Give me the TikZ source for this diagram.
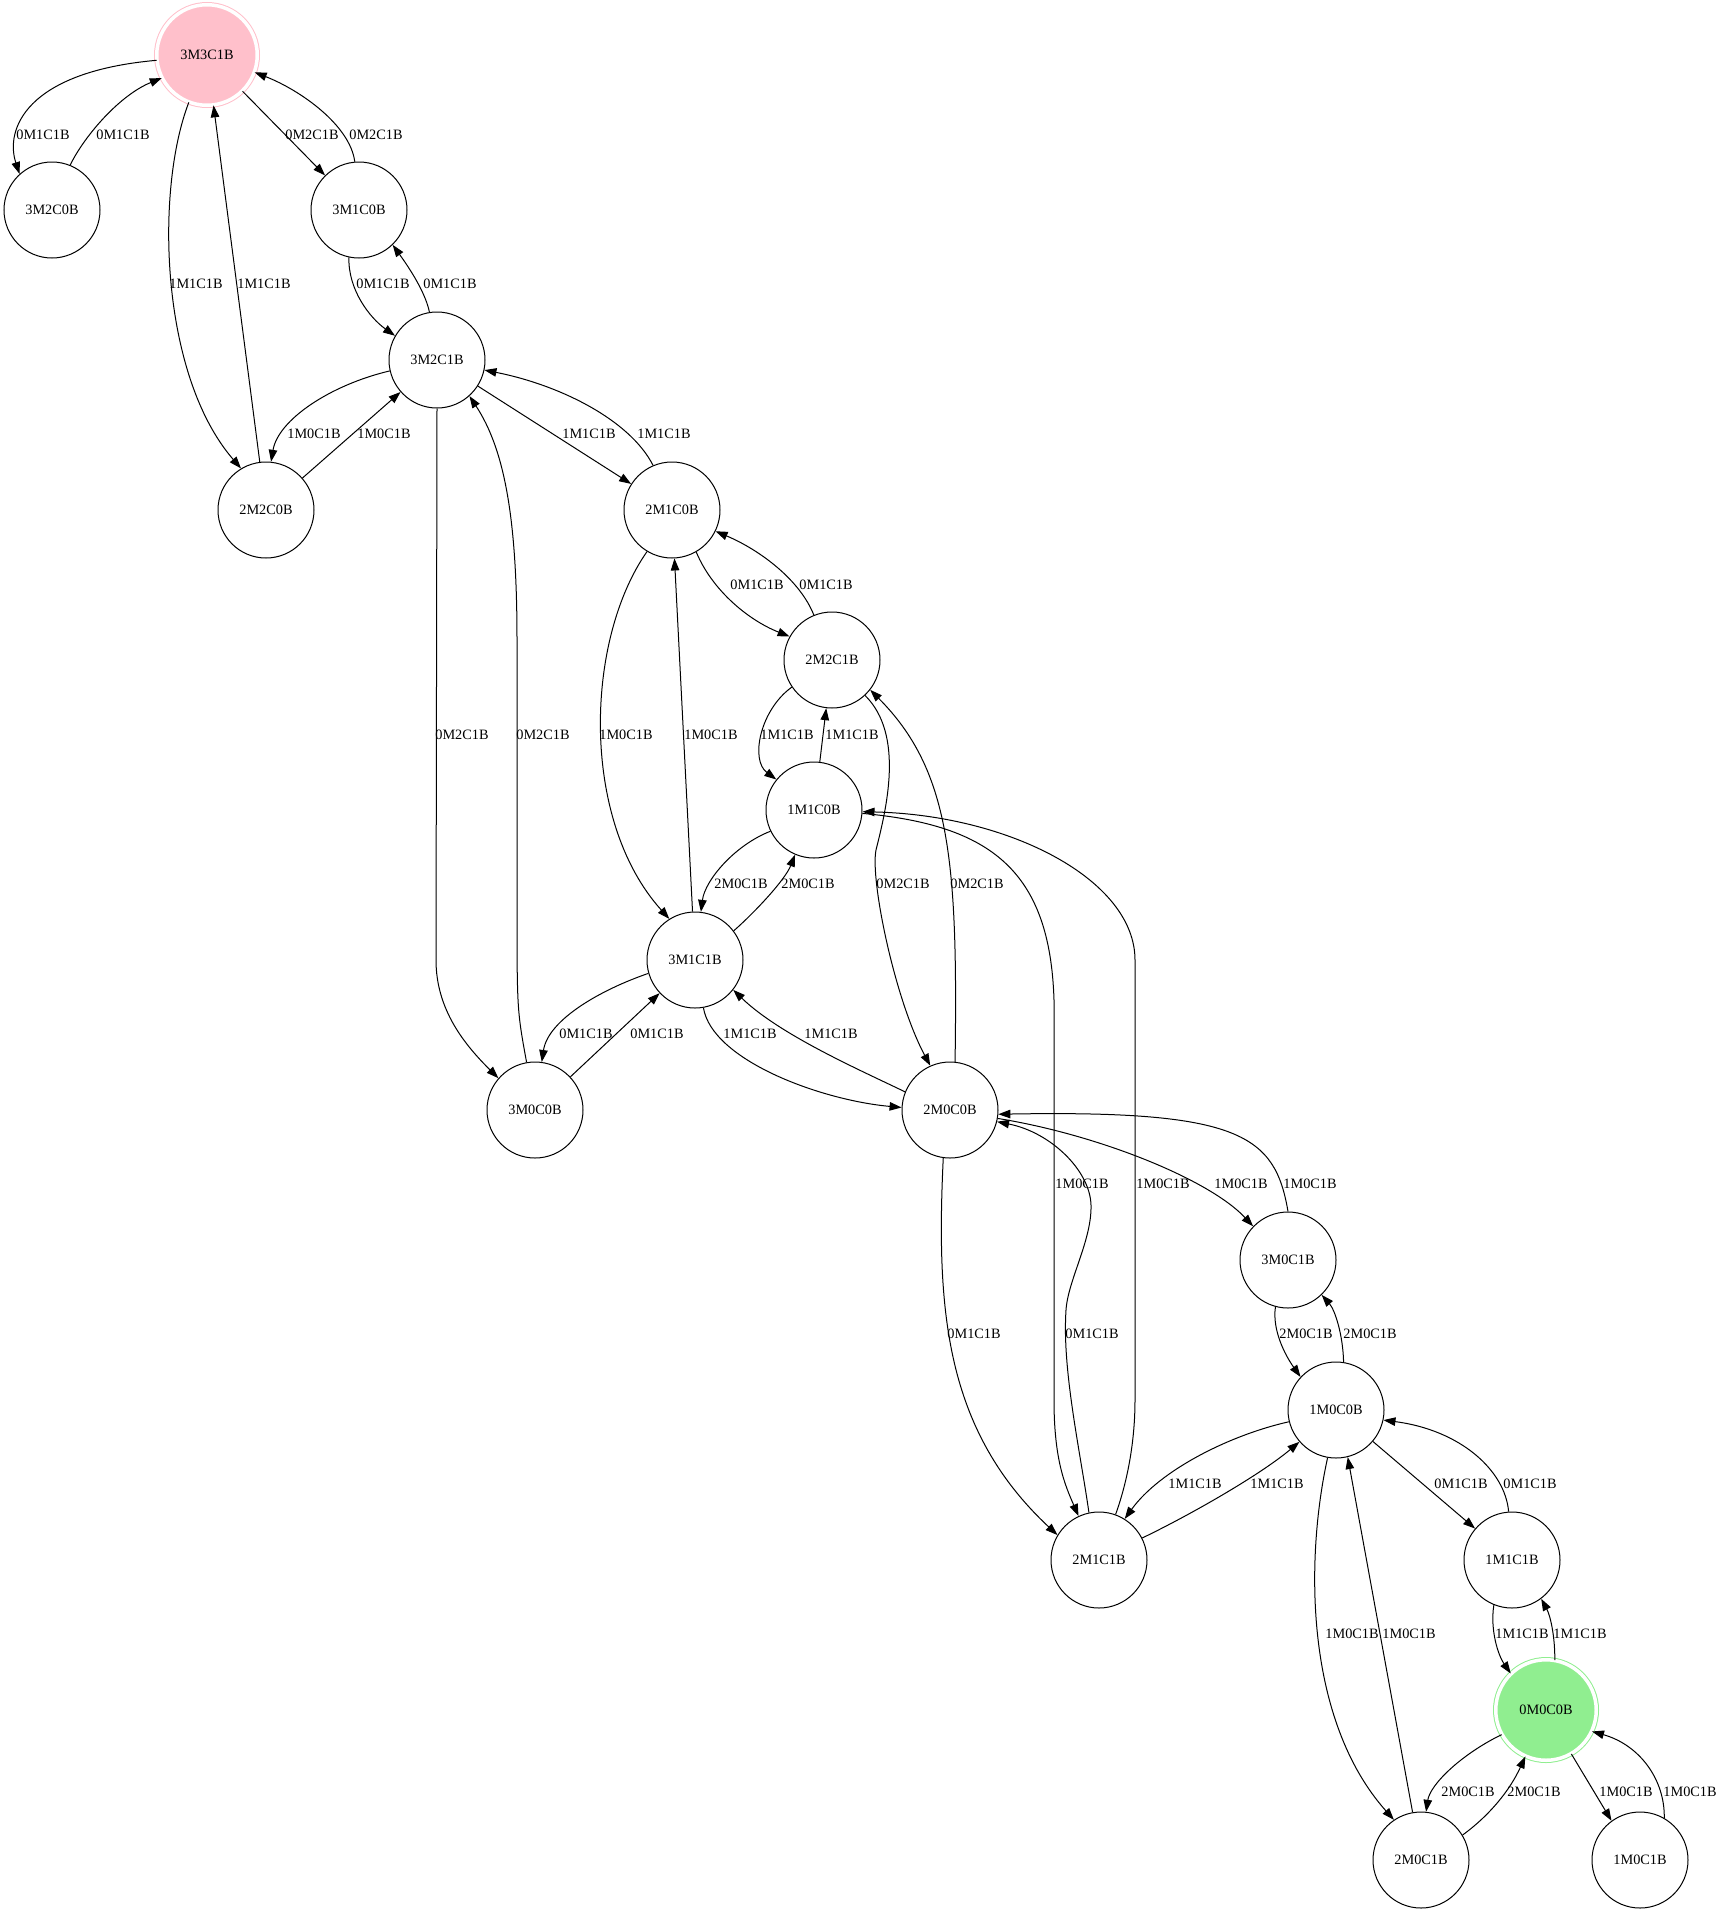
\documentclass[tikz,border=0pt]{standalone}
\usepackage{fontspec}
\setmainfont{Liberation Serif}
\usetikzlibrary{arrows.meta}
\definecolor{pinkc}{HTML}{FFC0CB}
\definecolor{greenc}{HTML}{90EE90}
\begin{document}
\begin{tikzpicture}[x=1pt,y=1pt,
  st/.style={circle,draw,line width=1pt,minimum size=96pt,inner sep=0pt,font=\fontsize{14.3}{16}\selectfont},
  fin/.style={st,minimum size=100.5pt,double=white,double distance=3.5pt},
  ed/.style={line width=1pt,-{Triangle[length=12pt,width=8.5pt]}},
  lab/.style={inner sep=0pt,font=\fontsize{14.3}{16}\selectfont}]
\useasboundingbox (0,0) rectangle (1722,-1920);

% states
\node[fin,draw=pinkc,fill=pinkc] (n3M3C1B) at (207,-55) {3M3C1B};
\node[st] (n3M2C0B) at (52,-210) {3M2C0B};
\node[st] (n3M1C0B) at (359,-210) {3M1C0B};
\node[st] (n3M2C1B) at (437,-360) {3M2C1B};
\node[st] (n2M2C0B) at (266,-510) {2M2C0B};
\node[st] (n2M1C0B) at (672,-510) {2M1C0B};
\node[st] (n2M2C1B) at (832,-660) {2M2C1B};
\node[st] (n1M1C0B) at (814,-810) {1M1C0B};
\node[st] (n3M1C1B) at (695,-960) {3M1C1B};
\node[st] (n3M0C0B) at (535,-1110) {3M0C0B};
\node[st] (n2M0C0B) at (950,-1110) {2M0C0B};
\node[st] (n3M0C1B) at (1288,-1260) {3M0C1B};
\node[st] (n1M0C0B) at (1336,-1410) {1M0C0B};
\node[st] (n2M1C1B) at (1099,-1560) {2M1C1B};
\node[st] (n1M1C1B) at (1512,-1560) {1M1C1B};
\node[fin,draw=greenc,fill=greenc] (n0M0C0B) at (1546,-1710) {0M0C0B};
\node[st] (n2M0C1B) at (1421,-1860) {2M0C1B};
\node[st] (n1M0C1B) at (1640,-1860) {1M0C1B};

% transitions
\draw[ed] (n3M3C1B.186) .. controls (25,-72) and (5,-130) .. (n3M2C0B.132) node[lab] (l1) at (43,-135) {0M1C1B};
\draw[ed] (n3M2C0B.68) .. controls (85,-135) and (120,-95) .. (n3M3C1B.207) node[lab] (l2) at (123,-135) {0M1C1B};
\draw[ed] (n3M3C1B) -- (n3M1C0B) node[lab] (l3) at (312,-135) {0M2C1B};
\draw[ed] (n3M1C0B.95) .. controls (350,-125) and (300,-90) .. (n3M3C1B.-20) node[lab] (l4) at (376,-135) {0M2C1B};
\draw[ed] (n3M3C1B.249) .. controls (155,-190) and (160,-375) .. (n2M2C0B.121) node[lab] (l5) at (196,-284) {1M1C1B};
\draw[ed] (n2M2C0B) -- (n3M3C1B) node[lab] (l6) at (264,-284) {1M1C1B};
\draw[ed] (n3M1C0B.258) .. controls (348,-290) and (370,-318) .. (n3M2C1B.150) node[lab] (l7) at (383,-284) {0M1C1B};
\draw[ed] (n3M2C1B.99) .. controls (425,-290) and (405,-262) .. (n3M1C0B.-46) node[lab] (l8) at (450,-284) {0M1C1B};
\draw[ed] (n3M2C1B.193) .. controls (330,-385) and (278,-420) .. (n2M2C0B.84) node[lab] (l9) at (314,-434) {1M0C1B};
\draw[ed] (n2M2C0B) -- (n3M2C1B) node[lab] (l10) at (384,-434) {1M0C1B};
\draw[ed] (n3M2C1B) -- (n2M1C0B) node[lab] (l11) at (589,-434) {1M1C1B};
\draw[ed] (n2M1C0B.113) .. controls (630,-420) and (560,-385) .. (n3M2C1B.-12) node[lab] (l12) at (664,-434) {1M1C1B};
\draw[ed] (n3M2C1B.-90) -- (436,-960) .. controls (436,-1010) and (465,-1045) .. (n3M0C0B.139) node[lab] (l13) at (462,-735) {0M2C1B};
\draw[ed] (n3M0C0B.100) .. controls (517,-1010) .. (517,-900) -- (517,-640) .. controls (517,-520) and (505,-450) .. (n3M2C1B.-48) node[lab] (l14) at (543,-735) {0M2C1B};
\draw[ed] (n2M1C0B.-121) .. controls (585,-640) and (580,-820) .. (n3M1C1B.122) node[lab] (l15) at (626,-735) {1M0C1B};
\draw[ed] (n3M1C1B) -- (n2M1C0B) node[lab] (l16) at (711,-735) {1M0C1B};
\draw[ed] (n2M1C0B.-60) .. controls (712,-590) and (748,-620) .. (n2M2C1B.151) node[lab] (l17) at (757,-585) {0M1C1B};
\draw[ed] (n2M2C1B.112) .. controls (800,-580) and (760,-550) .. (n2M1C0B.-26) node[lab] (l18) at (826,-585) {0M1C1B};
\draw[ed] (n2M2C1B.214) .. controls (760,-710) and (750,-760) .. (n1M1C0B.141) node[lab] (l19) at (787,-735) {1M1C1B};
\draw[ed] (n1M1C0B) -- (n2M2C1B) node[lab] (l20) at (852,-735) {1M1C1B};
\draw[ed] (n1M1C0B.206) .. controls (735,-845) and (705,-880) .. (n3M1C1B.83) node[lab] (l21) at (741,-884) {2M0C1B};
\draw[ed] (n3M1C1B.37) .. controls (755,-912) and (785,-880) .. (n1M1C0B.-113) node[lab] (l22) at (808,-884) {2M0C1B};
\draw[ed] (n2M2C1B.-47) .. controls (905,-735) and (886,-810) .. (876,-850) .. controls (870,-880) and (895,-1000) .. (n2M0C0B.114) node[lab] (l23) at (903,-884) {0M2C1B};
\draw[ed] (n2M0C0B.84) .. controls (958,-860) and (950,-770) .. (n2M2C1B.-38) node[lab] (l24) at (977,-884) {0M2C1B};
\draw[ed] (n3M1C1B.196) .. controls (600,-990) and (548,-1020) .. (n3M0C0B.82) node[lab] (l25) at (586,-1034) {0M1C1B};
\draw[ed] (n3M0C0B) -- (n3M1C1B) node[lab] (l26) at (657,-1034) {0M1C1B};
\draw[ed] (n3M1C1B.-80) .. controls (712,-1060) and (820,-1100) .. (n2M0C0B.177) node[lab] (l27) at (750,-1034) {1M1C1B};
\draw[ed] (n2M0C0B.158) .. controls (860,-1070) and (780,-1035) .. (n3M1C1B.-38) node[lab] (l28) at (831,-1034) {1M1C1B};
\draw[ed] (n2M0C0B.262) .. controls (936,-1310) and (945,-1430) .. (n2M1C1B.149) node[lab] (l29) at (974,-1334) {0M1C1B};
\draw[ed] (n2M1C1B.102) .. controls (1080,-1450) and (1062,-1370) .. (1066,-1310) .. controls (1068,-1280) and (1092,-1240) .. (1091,-1205) .. controls (1090,-1170) and (1050,-1132) .. (n2M0C0B.-14) node[lab] (l30) at (1092,-1334) {0M1C1B};
\draw[ed] (n1M1C0B.-4) .. controls (990,-825) and (1050,-870) .. (1054,-1000) -- (1054,-1400) .. controls (1054,-1460) and (1065,-1485) .. (n2M1C1B.115) node[lab] (l31) at (1082,-1184) {1M0C1B};
\draw[ed] (n2M1C1B.70) .. controls (1128,-1480) and (1135,-1440) .. (1135,-1400) -- (1135,-960) .. controls (1135,-880) and (1010,-815) .. (n1M1C0B.-2) node[lab] (l32) at (1163,-1184) {1M0C1B};
\draw[ed] (n2M0C0B.-10) .. controls (1100,-1135) and (1210,-1180) .. (n3M0C1B.136) node[lab] (l33) at (1241,-1184) {1M0C1B};
\draw[ed] (n3M0C1B.90) .. controls (1275,-1135) and (1240,-1110) .. (n2M0C0B.-5) node[lab] (l34) at (1310,-1184) {1M0C1B};
\draw[ed] (n3M0C1B.-105) .. controls (1272,-1330) and (1285,-1355) .. (n1M0C0B.137) node[lab] (l35) at (1306,-1334) {2M0C1B};
\draw[ed] (n1M0C0B.81) .. controls (1343,-1335) and (1335,-1310) .. (n3M0C1B.-46) node[lab] (l36) at (1370,-1334) {2M0C1B};
\draw[ed] (n1M0C0B.194) .. controls (1230,-1435) and (1160,-1470) .. (n2M1C1B.58) node[lab] (l37) at (1195,-1484) {1M1C1B};
\draw[ed] (n2M1C1B.27) .. controls (1190,-1515) and (1260,-1475) .. (n1M0C0B.221) node[lab] (l38) at (1277,-1484) {1M1C1B};
\draw[ed] (n1M0C0B) -- (n1M1C1B) node[lab] (l39) at (1461,-1484) {0M1C1B};
\draw[ed] (n1M1C1B.94) .. controls (1505,-1470) and (1460,-1430) .. (n1M0C0B.-12) node[lab] (l40) at (1530,-1484) {0M1C1B};
\draw[ed] (n1M0C0B.-100) .. controls (1305,-1560) and (1305,-1720) .. (n2M0C1B.124) node[lab] (l41) at (1352,-1634) {1M0C1B};
\draw[ed] (n2M0C1B.100) -- (n1M0C0B.-76) node[lab] (l42) at (1409,-1634) {1M0C1B};
\draw[ed] (n1M1C1B.-112) .. controls (1490,-1630) and (1498,-1655) .. (n0M0C0B.134) node[lab] (l43) at (1522,-1634) {1M1C1B};
\draw[ed] (n0M0C0B.80) .. controls (1555,-1635) and (1550,-1615) .. (n1M1C1B.-53) node[lab] (l44) at (1580,-1634) {1M1C1B};
\draw[ed] (n0M0C0B.209) .. controls (1460,-1755) and (1430,-1785) .. (n2M0C1B.84) node[lab] (l45) at (1468,-1792) {2M0C1B};
\draw[ed] (n2M0C1B.31) .. controls (1490,-1815) and (1510,-1790) .. (n0M0C0B.-114) node[lab] (l46) at (1534,-1792) {2M0C1B};
\draw[ed] (n0M0C0B.-60) -- (n1M0C1B.126) node[lab] (l47) at (1626,-1792) {1M0C1B};
\draw[ed] (n1M0C1B.60) .. controls (1665,-1780) and (1640,-1745) .. (n0M0C0B.-25) node[lab] (l48) at (1690,-1792) {1M0C1B};
\end{tikzpicture}
\end{document}
